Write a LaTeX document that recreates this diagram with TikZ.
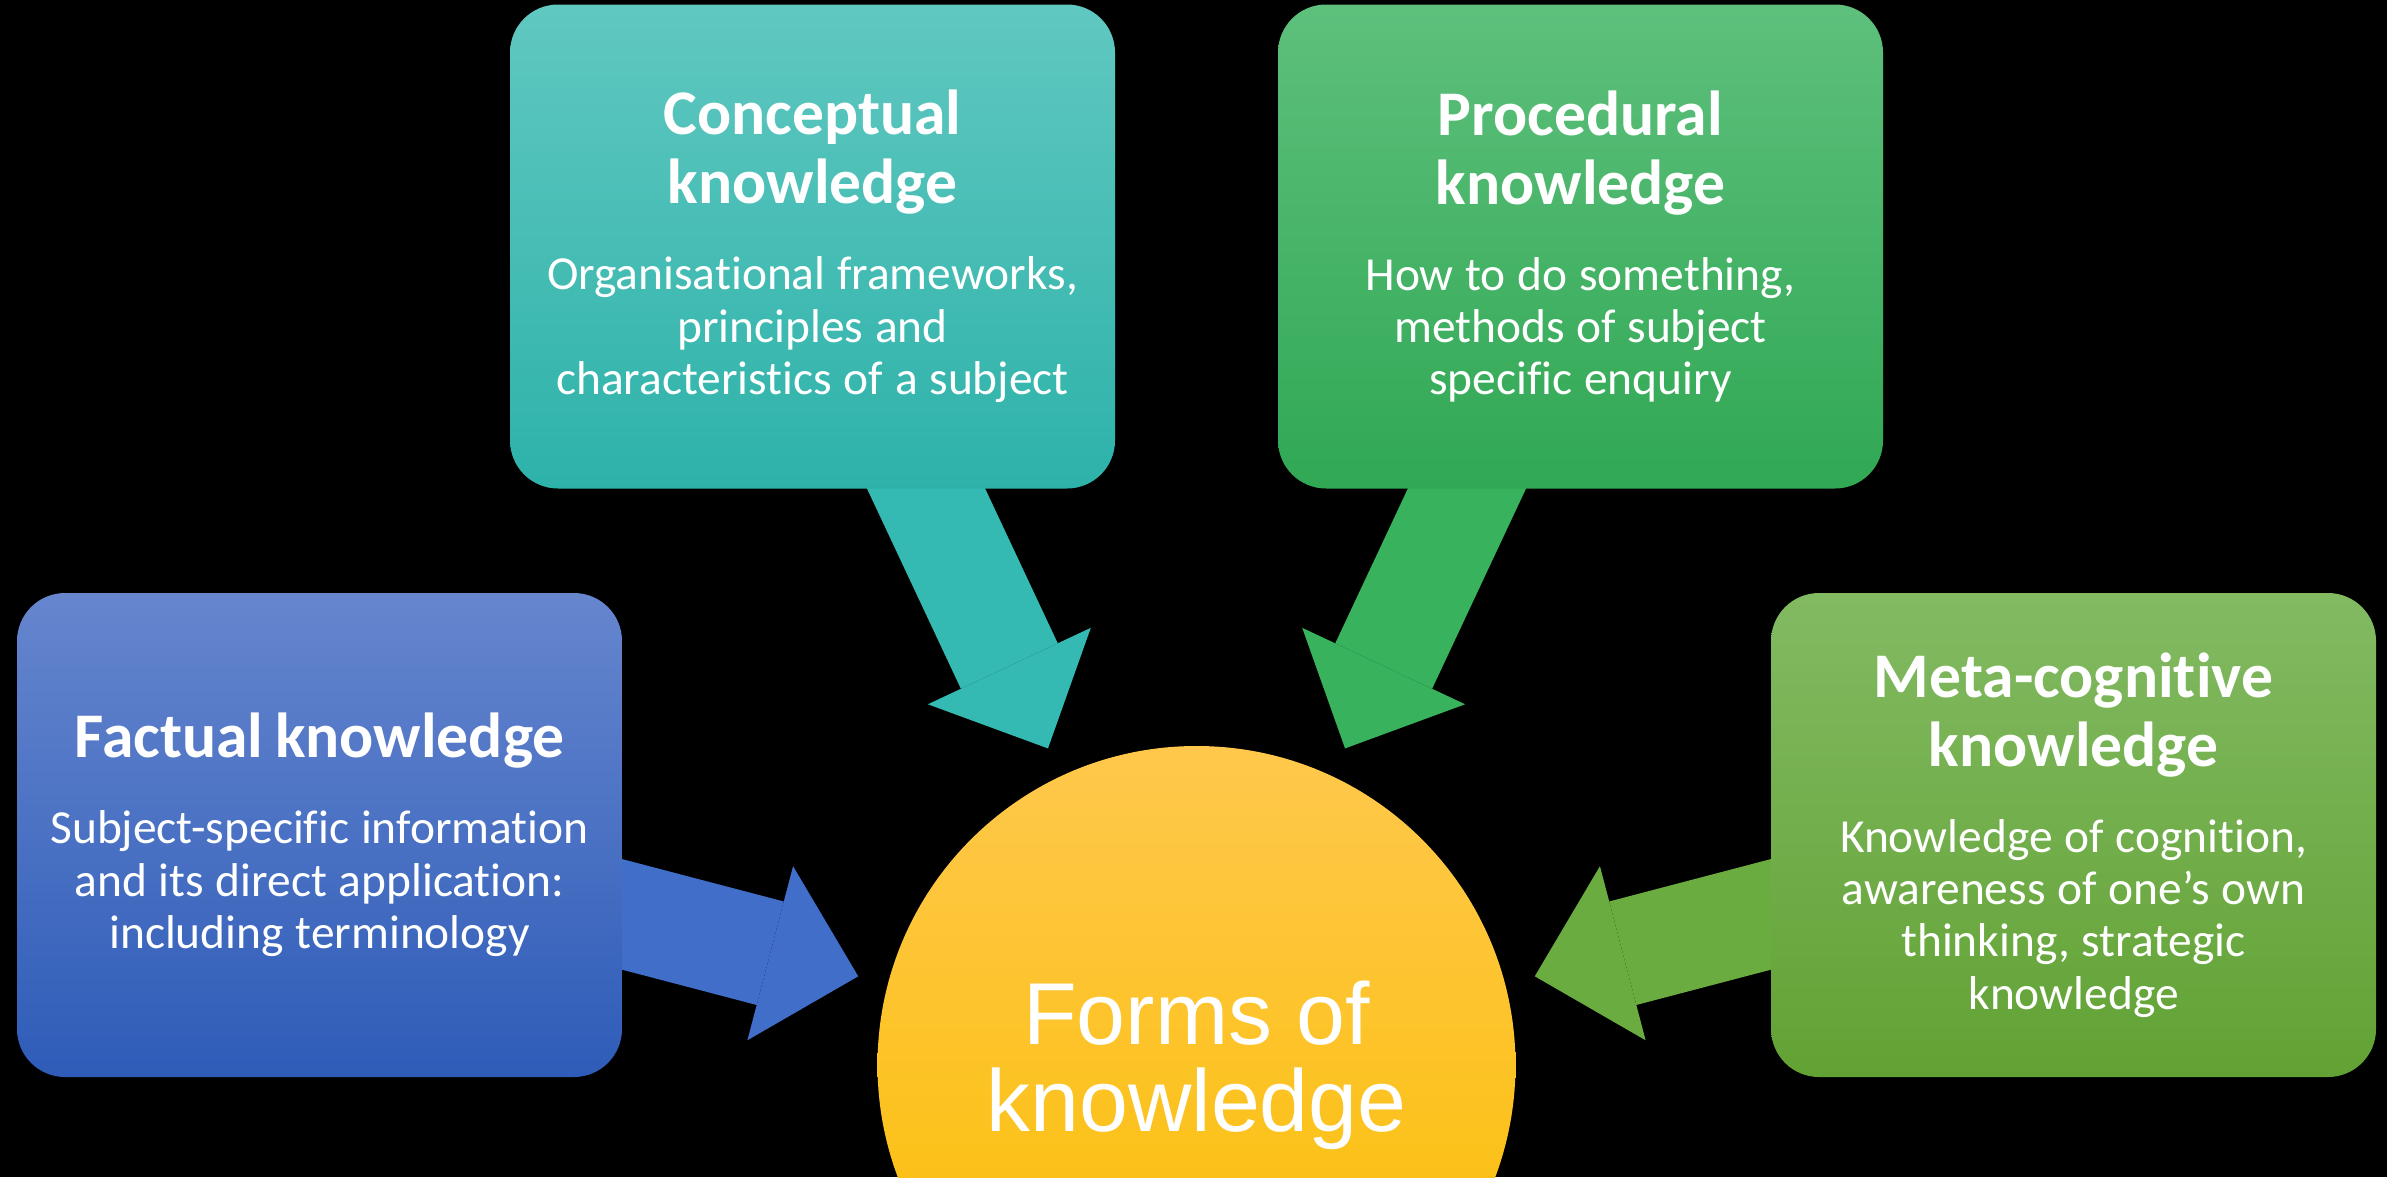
\documentclass[tikz,border=0pt]{standalone}
\usepackage{xcolor}
\usepackage{fontspec}
\setmainfont{Carlito}[Ligatures={NoCommon,NoContextual,NoRequired}]
\newfontfamily\hubfont{Liberation Sans}
\usepackage{tikz}
\usetikzlibrary{arrows.meta,calc}
\definecolor{factop}{RGB}{102,134,206}
\definecolor{facbot}{RGB}{46,92,184}
\definecolor{facarrow}{RGB}{64,110,200}
\definecolor{contop}{RGB}{96,200,192}
\definecolor{conbot}{RGB}{45,178,170}
\definecolor{conarrow}{RGB}{52,186,178}
\definecolor{protop}{RGB}{94,192,124}
\definecolor{probot}{RGB}{48,168,84}
\definecolor{proarrow}{RGB}{56,178,92}
\definecolor{metatop}{RGB}{130,186,98}
\definecolor{metabot}{RGB}{98,162,52}
\definecolor{metaarrow}{RGB}{106,172,64}
\definecolor{hubtop}{RGB}{255,200,76}
\definecolor{hubbot}{RGB}{250,190,0}
\pgfdeclarelayer{back}
\pgfsetlayers{back,main}
\newcommand\TitleFont{\fontsize{18.1}{19.6}\selectfont\bfseries}
\newcommand\BodyFont{\fontsize{13.5}{14.9}\selectfont}

\begin{document}
\begin{tikzpicture}[
  card/.style={rectangle, rounded corners=4.8mm, minimum width=6.05cm,
    minimum height=4.84cm, text width=5.8cm, align=center, text=white,
    inner sep=0pt, execute at begin node={\parindent=0pt}},
  hub/.style={circle, minimum size=6.38cm, inner sep=0pt, align=center,
    text=white, font=\hubfont\fontsize{25}{24.75}\selectfont,
    top color=hubtop, bottom color=hubbot},
  flow/.style={line width=10.7mm, shorten >=3mm,
    -{Triangle[length=9.1mm, width=18mm, line width=0pt]},
    preaction={draw, -, shorten >=7mm}}
]
  % Define coordinates
  \def\W{23.87}
  \def\H{11.77}
  \useasboundingbox (0,0) rectangle (\W,-\H);
  \begin{pgfonlayer}{back}
    \fill[black] (0,0) rectangle (\W,-\H);
  \end{pgfonlayer}
  \clip (0,0) rectangle (\W,-\H);
  % Draw boxes
  \node (factual) [card, top color=factop, bottom color=facbot] at (3.195,-8.35)
    {{\TitleFont Factual knowledge\par}\vspace{9.6pt}
     {\BodyFont Subject-specific information\\and its direct application:\\including terminology\par}};
  \node (conceptual) [card, top color=contop, bottom color=conbot] at (8.125,-2.465)
    {{\TitleFont Conceptual\\knowledge\par}\vspace{9.6pt}
     {\BodyFont Organisational frameworks,\\principles and\\characteristics of a subject\par}};
  \node (procedural) [card, top color=protop, bottom color=probot] at (15.805,-2.465)
    {{\TitleFont Procedural\\knowledge\par}\vspace{9.6pt}
     {\BodyFont How to do something,\\methods of subject\\specific enquiry\par}};
  \node (metacog) [card, top color=metatop, bottom color=metabot] at (20.735,-8.35)
    {{\TitleFont Meta-cognitive\\knowledge\par}\vspace{9.6pt}
     {\BodyFont Knowledge of cognition,\\awareness of one’s own\\thinking, strategic\\knowledge\par}};
  % Draw centre circle
  \node (forms) [hub] at (11.965,-10.65) {Forms of\\knowledge};
  % Draw arrows
  \begin{pgfonlayer}{back}
    \draw[flow, facarrow] (factual.center) -- (forms);
    \draw[flow, conarrow] (conceptual.center) -- (forms);
    \draw[flow, proarrow] (procedural.center) -- (forms);
    \draw[flow, metaarrow] (metacog.center) -- (forms);
  \end{pgfonlayer}
\end{tikzpicture}
\end{document}
